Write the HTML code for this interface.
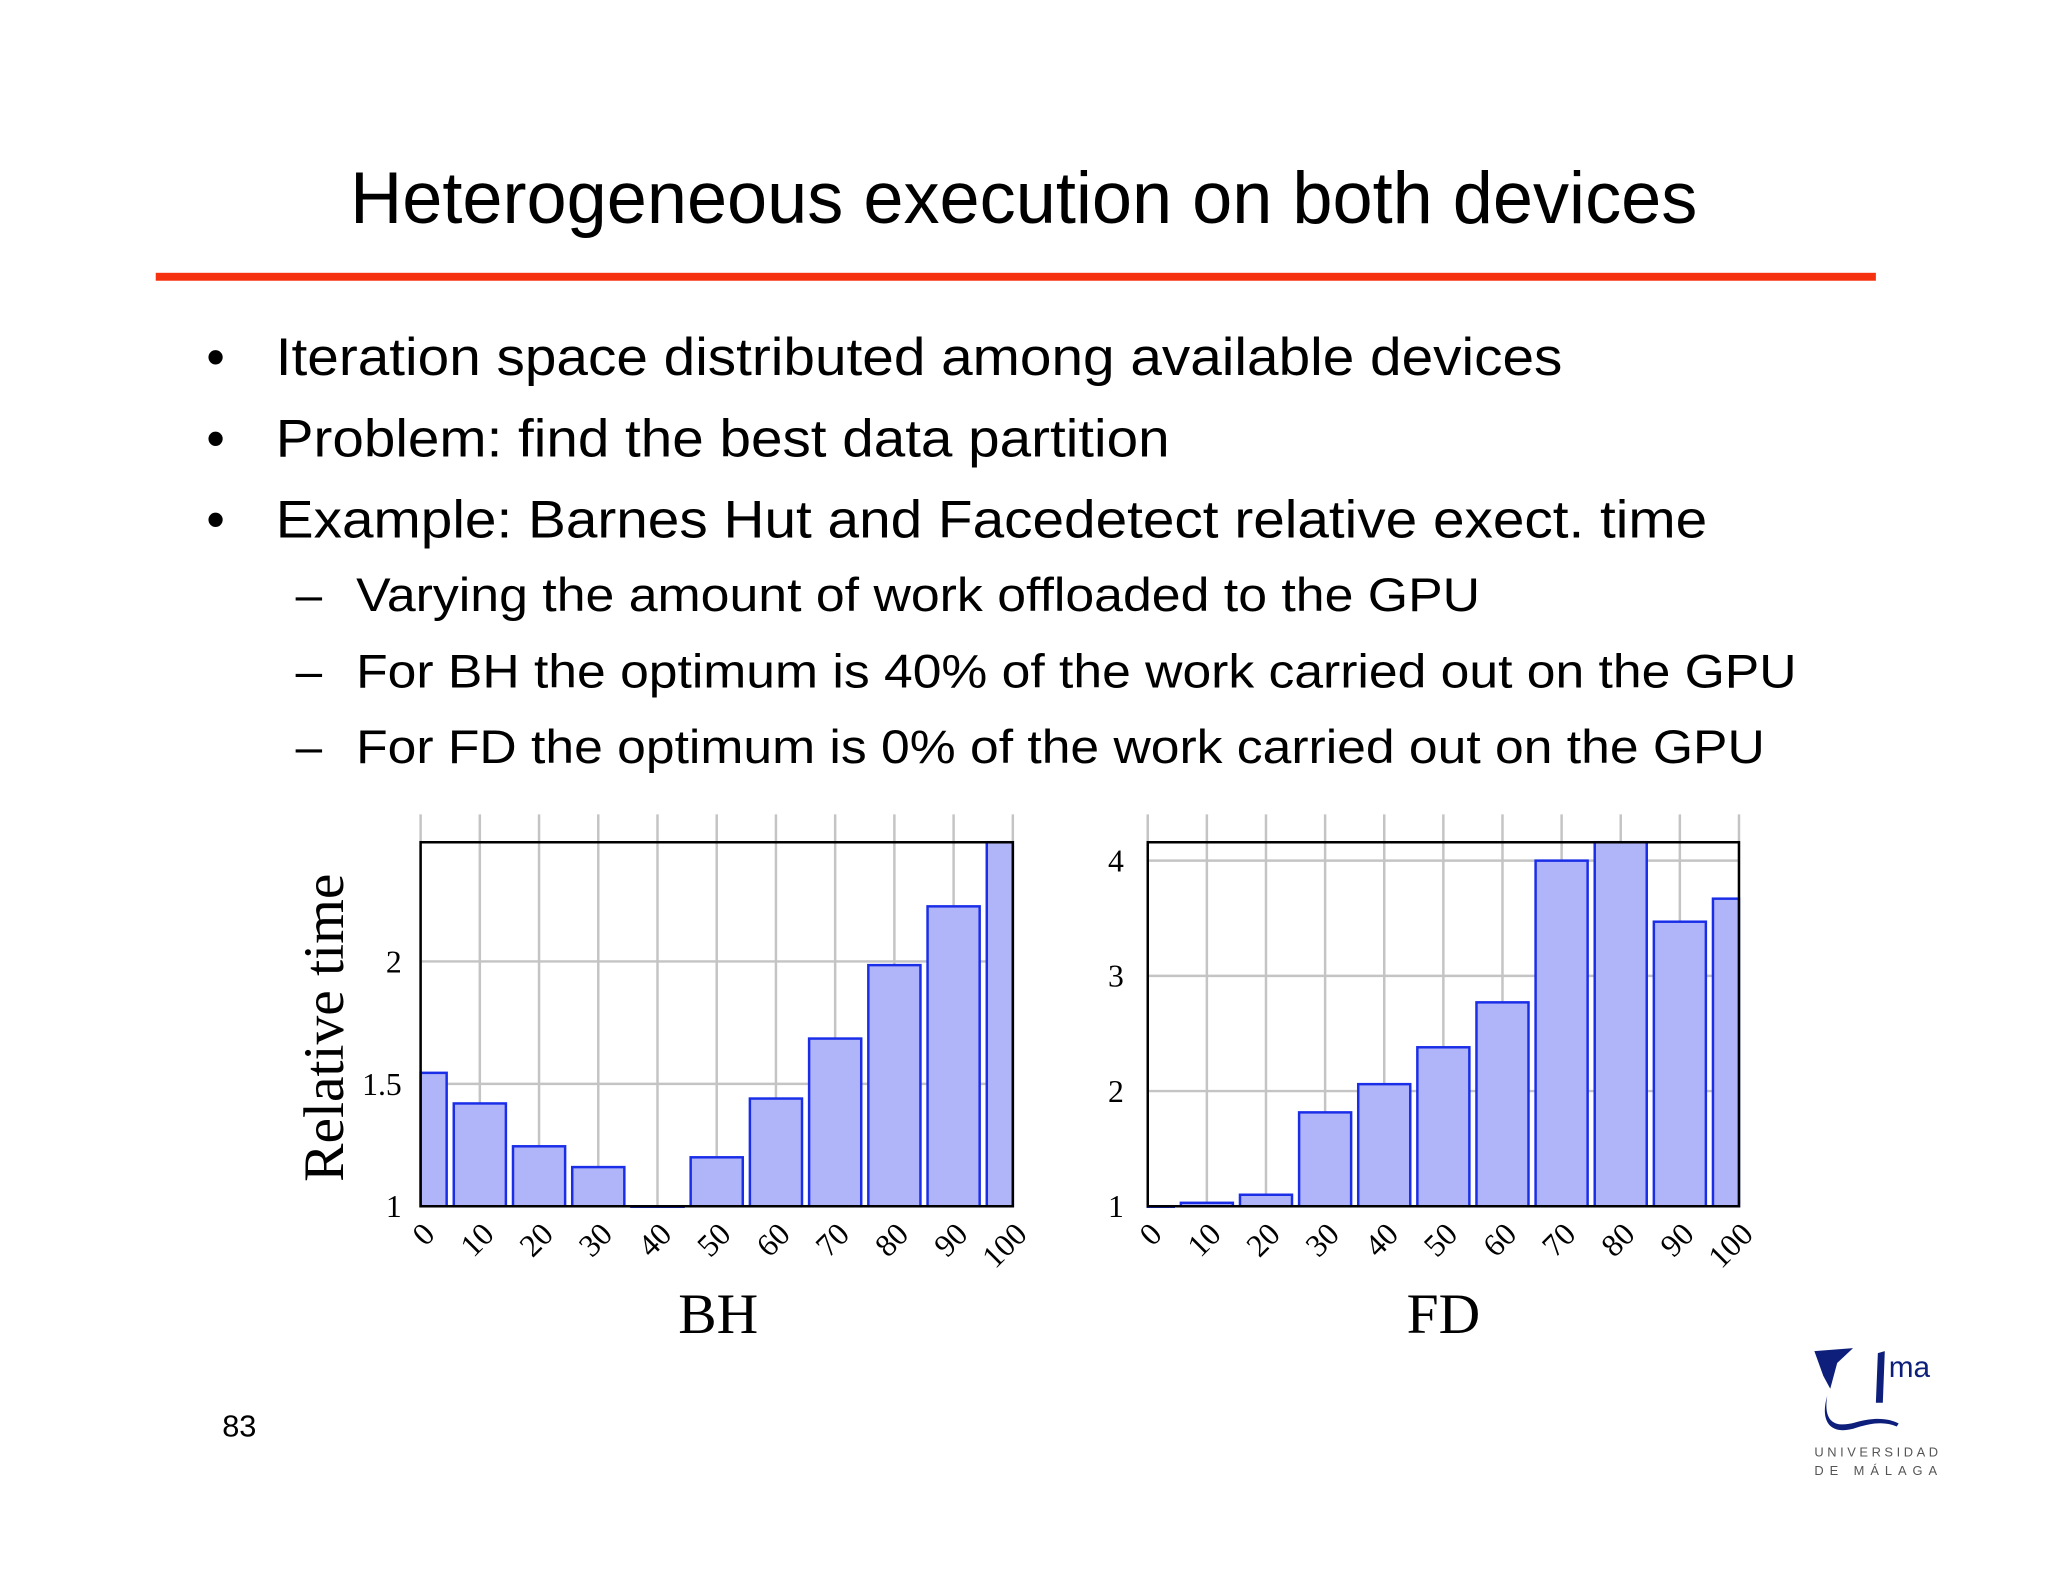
<!DOCTYPE html>
<html><head><meta charset="utf-8"><style>
html,body{margin:0;padding:0;background:#fff}
svg{display:block}
text{font-family:"Liberation Sans",sans-serif}
.serif{font-family:"Liberation Serif",serif}
</style></head><body>
<svg id="page" width="2048" height="1582" viewBox="0 0 2048 1582" xmlns="http://www.w3.org/2000/svg">
<rect width="2048" height="1582" fill="#fff"/>
<g transform="scale(0.992)">
<text x="353" y="225" font-size="74" textLength="1358" lengthAdjust="spacingAndGlyphs">Heterogeneous execution on both devices</text>
<rect x="157" y="275" width="1734" height="8" fill="#f5310f"/>
<g font-size="53">
<text x="208" y="378">•</text>
<text x="278" y="378" textLength="1297" lengthAdjust="spacingAndGlyphs">Iteration space distributed among available devices</text>
<text x="208" y="460">•</text>
<text x="278" y="460" textLength="901" lengthAdjust="spacingAndGlyphs">Problem: find the best data partition</text>
<text x="208" y="542">•</text>
<text x="278" y="542" textLength="1443" lengthAdjust="spacingAndGlyphs">Example: Barnes Hut and Facedetect relative exect. time</text>
</g>
<g font-size="48">
<text x="298" y="616">–</text>
<text x="359" y="616" textLength="1133" lengthAdjust="spacingAndGlyphs">Varying the amount of work offloaded to the GPU</text>
<text x="298" y="693">–</text>
<text x="359" y="693" textLength="1452" lengthAdjust="spacingAndGlyphs">For BH the optimum is 40% of the work carried out on the GPU</text>
<text x="298" y="769">–</text>
<text x="359" y="769" textLength="1420" lengthAdjust="spacingAndGlyphs">For FD the optimum is 0% of the work carried out on the GPU</text>
</g>
<g transform="translate(3,6)">
<g id="charts"></g>
<text class="serif" font-size="58" text-anchor="middle" transform="translate(343,1030) rotate(-90)">Relative time</text>
<text class="serif" font-size="58" text-anchor="middle" x="721" y="1338">BH</text>
<text class="serif" font-size="58" text-anchor="middle" x="1452" y="1338">FD</text>
</g>
<text x="224" y="1448" font-size="31">83</text>
<g fill="#0d1f7a">
<path d="M1829,1362 L1868,1359 L1852,1374 L1845,1400 L1838,1387 Z"/>
<path d="M1893,1364 L1900,1362 L1898,1414 L1891,1414 Z"/>
<path d="M1842,1407 C1838,1432 1848,1440 1870,1434 C1890,1428 1905,1430 1914,1435 L1912,1438 C1900,1433 1888,1434 1872,1439 C1846,1448 1834,1434 1842,1407 Z"/>
<text x="1904" y="1388" font-size="30">ma</text>
<text x="1829" y="1468" font-size="13" fill="#555" letter-spacing="3.6">UNIVERSIDAD</text>
<text x="1829" y="1487" font-size="13" fill="#555" letter-spacing="6">DE MÁLAGA</text>
</g>
</g>
</svg>
<script>
const categories = [0,10,20,30,40,50,60,70,80,90,100];
const bhValues = [1.545,1.42,1.245,1.16,1.0,1.2,1.44,1.685,1.985,2.225,2.49];
const fdValues = [1.0,1.03,1.1,1.815,2.06,2.38,2.77,4.0,4.16,3.47,3.67];
const bhTicks = [1,1.5,2];
const bhTickLabels = ["1","1.5","2"];
const fdTicks = [1,2,3,4];
const fdTickLabels = ["1","2","3","4"];
const NS = "http://www.w3.org/2000/svg";
const root = document.getElementById('charts');
function mk(tag, attrs, parent){const e=document.createElementNS(NS,tag);for(const k in attrs)e.setAttribute(k,attrs[k]);parent.appendChild(e);return e;}
function chart(name, left, right, top, bottom, yMin, yMax, values, ticks, tickLabels, labelX){
  const g = mk('g',{},root);
  
  
  const x = v => left + (v - categories[0]) / (categories[categories.length-1] - categories[0]) * (right - left);
  const y = v => bottom - (v - yMin) / (yMax - yMin) * (bottom - top);
  const step = x(categories[1]) - x(categories[0]);
  categories.forEach(c => {
    const l = mk('line',{x1:x(c),x2:x(c),y1:top-28,y2:bottom,stroke:'#c4c4c4','stroke-width':2.5},g);
    
    
  });
  ticks.forEach((t,i) => {
    const l = mk('line',{x1:left,x2:right,y1:y(t),y2:y(t),stroke:'#c4c4c4','stroke-width':2.5},g);
    
    
    const tx = mk('text',{x:labelX,y:y(t)+11,'font-size':32,'text-anchor':'end',class:'serif'},g);
    tx.textContent = tickLabels[i];
    
    
  });
  values.forEach((v,i) => {
    let x0 = x(categories[i]) - step*0.44, x1 = x(categories[i]) + step*0.44;
    x0 = Math.max(x0, left); x1 = Math.min(x1, right);
    const yt = Math.max(y(v), top);
    const r = mk('rect',{x:x0,y:yt,width:x1-x0,height:Math.max(bottom-yt,0.5),fill:'#b0b4f8',stroke:'#1a2ee8','stroke-width':2.5},g);
    
    
  });
  const f = mk('path',{d:`M${left},${bottom} L${left},${top} L${right},${top} L${right},${bottom} Z`,fill:'none',stroke:'#000','stroke-width':2.5},g);
  
  
  categories.forEach(c => {
    const tx = mk('text',{x:0,y:0,'font-size':32,'text-anchor':'end',class:'serif',transform:`translate(${x(c)+16},${bottom+30}) rotate(-45)`},g);
    tx.textContent = String(c);
    
    
  });
}
chart('bh-chart', 421, 1018, 843, 1210, 1, 2.487, bhValues, bhTicks, bhTickLabels, 402);
chart('fd-chart', 1154, 1750, 843, 1210, 1, 4.16, fdValues, fdTicks, fdTickLabels, 1130);
</script>
</body></html>
